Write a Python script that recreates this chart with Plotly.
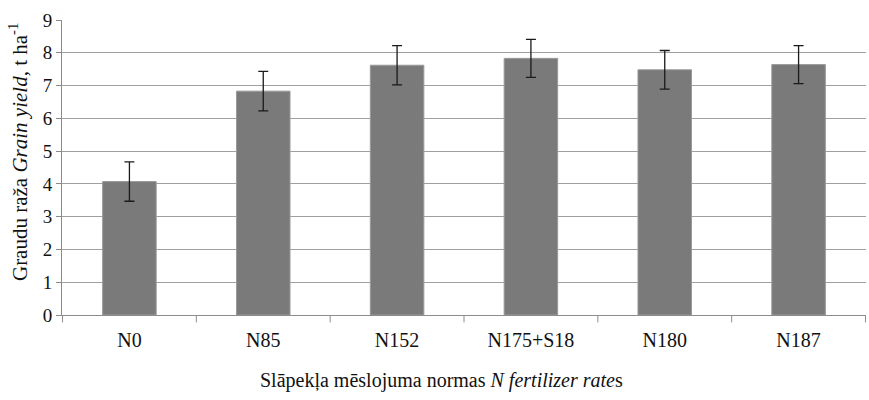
import plotly.graph_objects as go

categories = ["N0", "N85", "N152", "N175+S18", "N180", "N187"]
yield_t_ha = [4.07, 6.83, 7.62, 7.83, 7.48, 7.64]
error_t_ha = [0.6, 0.6, 0.6, 0.58, 0.59, 0.58]
y_ticks = list(range(0, 10))

SERIF = "'Times New Roman', 'Liberation Serif', serif"

fig = go.Figure(
    go.Bar(
        x=categories,
        y=yield_t_ha,
        width=0.4,
        marker=dict(color="#7a7a7a", line=dict(color="#9a9a9a", width=1)),
        error_y=dict(type="data", array=error_t_ha, visible=True,
                     color="#1a1a1a", thickness=1.3, width=5),
    )
)

fig.update_layout(
    width=869, height=400,
    margin=dict(l=62, r=3, t=20, b=85),
    paper_bgcolor="white", plot_bgcolor="white",
    font=dict(family=SERIF, color="#111", size=19),
    showlegend=False,
    bargap=0.6,
)

fig.update_xaxes(
    showline=True, linecolor="#8c8c8c", linewidth=1,
    ticks="", tickfont=dict(family=SERIF, size=20),
    ticklabelstandoff=7,
    showgrid=False,
)

fig.update_yaxes(
    range=[0, 9], tickvals=y_ticks,
    showline=True, linecolor="#8c8c8c", linewidth=1,
    ticks="outside", ticklen=5, tickcolor="#8c8c8c",
    showgrid=True, gridcolor="#a0a0a0", gridwidth=1,
    tickfont=dict(family=SERIF, size=19),
    zeroline=False,
)

# axis titles, placed relative to the whole figure
fig.add_annotation(
    text="Slāpekļa mēslojuma normas <i>N fertilizer rate</i>s",
    xref="paper", yref="paper", x=0.4714, y=-0.2237,
    xanchor="center", yanchor="middle", showarrow=False,
    font=dict(family=SERIF, size=20, color="#111"),
)
fig.add_annotation(
    text="Graudu raža <i>Grain yield</i>, t ha<sup>-1</sup>",
    xref="paper", yref="paper", x=-0.0547, y=0.5525,
    xanchor="center", yanchor="middle", showarrow=False, textangle=-90,
    font=dict(family=SERIF, size=21, color="#111"),
)

# category separator ticks below the x axis
for i in range(len(categories) + 1):
    fig.add_shape(type="line", xref="x", yref="paper",
                  x0=i - 0.5, x1=i - 0.5, y0=0, y1=-0.025,
                  line=dict(color="#8c8c8c", width=1))

fig.write_html("out.html")
